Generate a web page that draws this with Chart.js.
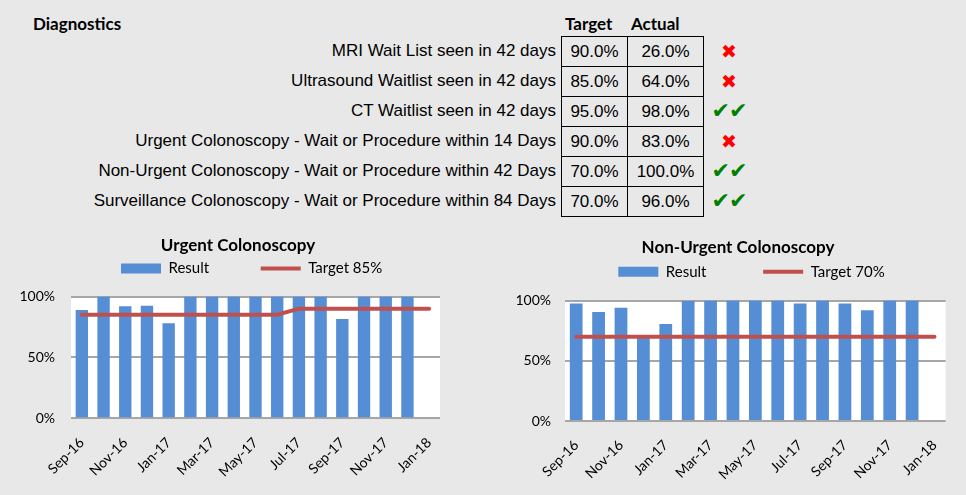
<!DOCTYPE html>
<html lang="en">
<head>
  <meta charset="UTF-8" />
  <title>Diagnostics</title>
  <script src="https://cdn.jsdelivr.net/npm/chart.js"></script>
</head>
<body>
  <!-- Table -->
  <div id="heading">Diagnostics</div>
  <div class="colhead" style="left:565px">Target</div>
  <div class="colhead" style="left:631px">Actual</div>
  <div id="rows"></div>

  <!-- Charts -->
  <div class="chart-box" style="left:0"><canvas id="urgentChart"></canvas></div>
  <div class="chart-box" style="left:483px"><canvas id="nonUrgentChart"></canvas></div>

  <script>
    const measures = [
      'MRI Wait List seen in 42 days',
      'Ultrasound Waitlist seen in 42 days',
      'CT Waitlist seen in 42 days',
      'Urgent Colonoscopy - Wait or Procedure within 14 Days',
      'Non-Urgent Colonoscopy - Wait or Procedure within 42 Days',
      'Surveillance Colonoscopy - Wait or Procedure within 84 Days'
    ];
    const targetPct = [90, 85, 95, 90, 70, 70];
    const actualPct = [26, 64, 98, 83, 100, 96];

    const months = ['Sep-16', 'Oct-16', 'Nov-16', 'Dec-16', 'Jan-17', 'Feb-17', 'Mar-17', 'Apr-17', 'May-17',
                    'Jun-17', 'Jul-17', 'Aug-17', 'Sep-17', 'Oct-17', 'Nov-17', 'Dec-17', 'Jan-18'];
    const urgentResult = [89, 100, 92, 92.5, 78, 100, 100, 100, 100, 100, 100, 100, 81.5, 100, 100, 100, null];
    const urgentTarget = [85, 85, 85, 85, 85, 85, 85, 85, 85, 85, 90, 90, 90, 90, 90, 90, 90];
    const nonUrgentResult = [97.5, 90.5, 94, 70, 80.5, 99.5, 100, 100, 100, 100, 97.5, 100, 97.5, 92, 100, 100, null];
    const nonUrgentTarget = [70, 70, 70, 70, 70, 70, 70, 70, 70, 70, 70, 70, 70, 70, 70, 70, 70];
    const yTicks = [0, 50, 100];

    // table rows
    const rows = document.getElementById('rows');
    measures.forEach((m, i) => {
      const top = 36 + 30 * i;
      const met = actualPct[i] >= targetPct[i];
      rows.innerHTML += `
        <div class="lbl" style="top:${top}px">${m}</div>
        <div class="cell" style="top:${top}px;left:561px;width:67px">${targetPct[i].toFixed(1)}%</div>
        <div class="cell" style="top:${top}px;left:627px;width:77px">${actualPct[i].toFixed(1)}%</div>
        <div class="icon ${met ? 'ok' : 'bad'}" style="top:${top}px">${met ? '✔✔' : '✖'}</div>`;
    });

    // widest y label, so the mirrored labels can sit left of the plot
    const mctx = document.createElement('canvas').getContext('2d');
    mctx.font = '14px Lato';
    const widestY = Math.max(...yTicks.map(v => mctx.measureText(v + '%').width));

    const whiteArea = {
      id: 'whiteArea',
      beforeDraw(chart) {
        const a = chart.chartArea;
        chart.ctx.save();
        chart.ctx.fillStyle = '#ffffff';
        chart.ctx.fillRect(a.left, a.top, a.right - a.left, a.bottom - a.top);
        chart.ctx.restore();
      }
    };

    function makeChart(id, title, targetName, results, targets, box) {
      return new Chart(document.getElementById(id), {
        type: 'bar',
        data: {
          labels: months,
          datasets: [
            {
              type: 'line',
              label: targetName,
              data: targets,
              borderColor: '#c0504d',
              backgroundColor: '#c0504d',
              borderWidth: 4,
              borderCapStyle: 'round',
              pointRadius: 0,
              pointStyle: 'line',
              tension: 0
            },
            {
              label: 'Result',
              data: results,
              backgroundColor: '#558ed5',
              pointStyle: 'rect',
              categoryPercentage: 1,
              barPercentage: 0.57
            }
          ]
        },
        options: {
          responsive: true,
          maintainAspectRatio: false,
          animation: false,
          layout: { padding: { left: box.padL, right: box.padR, top: 0, bottom: 0 } },
          plugins: {
            title: {
              display: true,
              text: title,
              color: '#000',
              font: { family: 'Lato', size: 17, weight: 'bold' },
              padding: { top: box.titleTop, bottom: 0 }
            },
            legend: {
              reverse: true,
              fullSize: false,
              labels: {
                usePointStyle: true,
                pointStyleWidth: 40,
                boxHeight: 10,
                padding: box.legendPad,
                color: '#000',
                font: { family: 'Lato', size: 15 },
                generateLabels(chart) {
                  const items = Chart.defaults.plugins.legend.labels.generateLabels(chart);
                  items.forEach(it => {
                    if (it.text === 'Result') it.text = 'Result' + ' '.repeat(box.gapSpaces);
                    else it.text = it.text + '  ';
                  });
                  return items;
                }
              }
            },
            subtitle: {
              display: true,
              text: '',
              weight: 500,
              padding: 0,
              font: { size: 10, lineHeight: box.spacer + 'px' }
            },
            tooltip: { enabled: false }
          },
          scales: {
            x: {
              grid: { display: false },
              border: { display: false },
              ticks: {
                autoSkip: false,
                minRotation: 45,
                maxRotation: 45,
                padding: 8,
                color: '#000',
                font: { family: 'Lato', size: 14 },
                callback: function (v, i) { return i % 2 === 0 ? this.getLabelForValue(v) : ''; }
              },
              afterFit(s) { s.height = box.xHeight; s.paddingLeft = 0; s.paddingRight = 0; }
            },
            y: {
              min: 0,
              max: 100,
              grid: { color: '#a6a6a6', lineWidth: 2, drawTicks: false },
              border: { display: false },
              afterBuildTicks(s) { s.ticks = yTicks.map(v => ({ value: v })); },
              ticks: {
                mirror: true,
                crossAlign: 'far',
                padding: -(box.yGap + widestY),
                color: '#000',
                font: { family: 'Lato', size: 14 },
                callback: v => v + '%'
              },
              afterFit(s) { s.width = box.yWidth; }
            }
          }
        },
        plugins: [whiteArea]
      });
    }

    makeChart('urgentChart', 'Urgent Colonoscopy', 'Target 85%', urgentResult, urgentTarget,
      { padL: 36, padR: 43, yWidth: 35, titleTop: 7, legendPad: 5.5, spacer: 10.6, xHeight: 76.7, yGap: 16, gapSpaces: 12 });
    makeChart('nonUrgentChart', 'Non-Urgent Colonoscopy', 'Target 70%', nonUrgentResult, nonUrgentTarget,
      { padL: 47.3, padR: 20.3, yWidth: 34.7, titleTop: 9, legendPad: 6.8, spacer: 11.3, xHeight: 74, yGap: 14, gapSpaces: 13 });
  </script>

  <style>
    body {
      margin: 0;
      width: 966px;
      height: 495px;
      background: #e8e8e8;
      position: relative;
      overflow: hidden;
      font-family: 'Liberation Sans', Arial, sans-serif;
      color: #000;
    }

    #heading {
      position: absolute;
      left: 33px;
      top: 13px;
      font: bold 17px Lato, sans-serif;
    }

    .colhead {
      position: absolute;
      top: 13px;
      font: bold 17px Lato, sans-serif;
    }

    .lbl {
      position: absolute;
      right: 410px;
      height: 30px;
      line-height: 30px;
      font-size: 17px;
      white-space: nowrap;
    }

    .cell {
      position: absolute;
      height: 31px;
      line-height: 29px;
      box-sizing: border-box;
      border: 1px solid #000;
      text-align: center;
      font-size: 17px;
    }

    .icon {
      position: absolute;
      left: 704px;
      width: 50px;
      height: 30px;
      line-height: 30px;
      text-align: center;
      font-family: 'DejaVu Sans', sans-serif;
    }

    .icon.ok { color: #008000; font-size: 22px; letter-spacing: -1px; }
    .icon.bad { color: #ff0000; font-size: 19px; }

    .chart-box {
      position: absolute;
      top: 228px;
      width: 483px;
      height: 267px;
    }
  </style>
</body>
</html>
